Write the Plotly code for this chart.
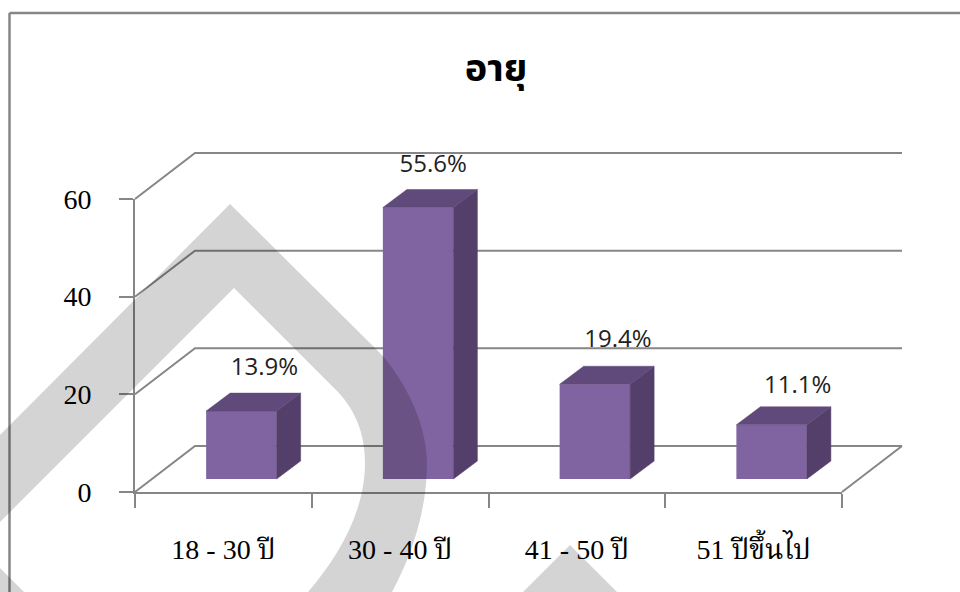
import plotly.graph_objects as go

categories = ["18 - 30 ปี", "30 - 40 ปี", "41 - 50 ปี", "51 ปีขึ้นไป"]
values = [13.9, 55.6, 19.4, 11.1]
labels = ["13.9%", "55.6%", "19.4%", "11.1%"]
y_ticks = [0, 20, 40, 60]
title = "อายุ"

W, H = 960, 592
L, R, T, B = 135, 842, 199, 492          # front axes box, in page pixels
PL, PR, PT, PB = 132, 906, 150, 495      # whole drawing area including the back wall
ux = (R - L) / 4
uy = (B - T) / 60
WALL_DX, WALL_DY = 60 / ux, 46 / uy
BAR_BASE_DX, BAR_BASE_DY = 18 / ux, 13 / uy
BAR_W = 70.5 / ux
BAR_DX, BAR_DY = 24 / ux, 18 / uy
LABEL_NUDGE_PX = [(-1, 24), (-9, 24), (-1, 25), (2, 20)]   # hand placement of the data labels
GRID = "#868686"
FRONT, SIDE, TOP = "#8063A1", "#533F69", "#5F4A7B"
SERIF = "Liberation Serif, 'Noto Serif Thai', 'Noto Sans Thai', 'Noto Sans', serif"
SANS = "'Open Sans', 'Noto Sans', 'Noto Sans Thai', sans-serif"

full_x = [(PL - L) / ux, (PR - L) / ux]
full_y = [(B - PB) / uy, (B - PT) / uy]

fig = go.Figure()

# back wall, side wall and floor lines: lowest subplot
for t in y_ticks:
    fig.add_trace(go.Scatter(
        x=[0, WALL_DX, 4 + WALL_DX], y=[t, t + WALL_DY, t + WALL_DY], mode="lines",
        line=dict(color=GRID, width=2), hoverinfo="skip", showlegend=False))
fig.add_trace(go.Scatter(
    x=[4, 4 + WALL_DX], y=[0, WALL_DY], mode="lines",
    line=dict(color=GRID, width=2), hoverinfo="skip", showlegend=False))

# front faces on the real axes
centers = [i + 0.5 + BAR_BASE_DX for i in range(4)]
fig.add_trace(go.Bar(
    x=centers, y=values, base=[BAR_BASE_DY] * 4, width=BAR_W, marker=dict(color=FRONT, line=dict(width=0)),
    xaxis="x2", yaxis="y2", showlegend=False, hoverinfo="skip"))

# side and top faces, data labels
for c, v in zip(centers, values):
    x0, x1 = c - BAR_W / 2, c + BAR_W / 2
    y0, y1 = BAR_BASE_DY, BAR_BASE_DY + v
    fig.add_trace(go.Scatter(
        x=[x1, x1 + BAR_DX, x1 + BAR_DX, x1, x1], y=[y0, y0 + BAR_DY, y1 + BAR_DY, y1, y0],
        mode="lines", fill="toself", fillcolor=SIDE, line=dict(color=SIDE, width=0.5),
        xaxis="x3", yaxis="y3", hoverinfo="skip", showlegend=False))
    fig.add_trace(go.Scatter(
        x=[x0, x1, x1 + BAR_DX, x0 + BAR_DX, x0], y=[y1, y1, y1 + BAR_DY, y1 + BAR_DY, y1],
        mode="lines", fill="toself", fillcolor=TOP, line=dict(color=TOP, width=0.5),
        xaxis="x3", yaxis="y3", hoverinfo="skip", showlegend=False))

fig.add_trace(go.Scatter(
    x=[c + BAR_DX + n[0] / ux for c, n in zip(centers, LABEL_NUDGE_PX)],
    y=[BAR_BASE_DY + v + BAR_DY + n[1] / uy for v, n in zip(values, LABEL_NUDGE_PX)],
    text=labels, mode="text", textposition="middle center",
    textfont=dict(family=SANS, size=24, color="#222222"),
    xaxis="x3", yaxis="y3", hoverinfo="skip", showlegend=False))


def px(x):
    return (x - PL) / (PR - PL)


def py(y):
    return (PB - y) / (PB - PT)


def path(*cmds):
    out = []
    for c in cmds:
        out.append(c[0] + " ".join(f"{px(c[i]):.5f},{py(c[i + 1]):.5f}" for i in range(1, len(c), 2)))
    return " ".join(out) + " Z"


WM = "rgba(0,0,0,0.17)"
shapes = [
    dict(type="path", xref="paper", yref="paper", layer="above", fillcolor=WM, line=dict(width=0),
         path=path(("M", 0, 435), ("L", 230, 204), ("L", 375, 348),
                   ("C", 400, 372, 427, 420, 427, 463), ("C", 427, 510, 412, 555, 392, 592),
                   ("L", 308, 592), ("C", 340, 555, 365, 510, 365, 463),
                   ("C", 365, 433, 355, 410, 338, 392), ("L", 234, 288), ("L", 0, 522))),
    dict(type="path", xref="paper", yref="paper", layer="above", fillcolor=WM, line=dict(width=0),
         path=path(("M", 0, 568), ("L", 24, 592), ("L", 0, 592))),
    dict(type="path", xref="paper", yref="paper", layer="above", fillcolor=WM, line=dict(width=0),
         path=path(("M", 523, 592), ("L", 570, 545), ("L", 617, 592))),
    dict(type="line", xref="paper", yref="paper", x0=px(9.5), x1=px(9.5), y0=py(592), y1=py(13),
         line=dict(color="#868686", width=2.5), layer="below"),
    dict(type="line", xref="paper", yref="paper", x0=px(9.5), x1=px(960), y0=py(13), y1=py(13),
         line=dict(color="#868686", width=2.5), layer="below"),
]

axis_common = dict(showgrid=False, zeroline=False, showline=True, linecolor=GRID, linewidth=2)
hidden = dict(visible=False, domain=[0, 1])
fig.update_layout(
    width=W, height=H, margin=dict(l=PL, r=W - PR, t=PT, b=H - PB, autoexpand=False),
    paper_bgcolor="white", plot_bgcolor="rgba(0,0,0,0)", showlegend=False, shapes=shapes,
    title=dict(text=f"<b>{title}</b>", x=496 / W, y=1 - 68 / H, xanchor="center", yanchor="middle",
               font=dict(family=SANS, size=38, color="black")),
    xaxis=dict(range=full_x, **hidden),
    yaxis=dict(range=full_y, **hidden),
    xaxis3=dict(range=full_x, anchor="y3", **hidden),
    yaxis3=dict(range=full_y, anchor="x3", **hidden),
    xaxis2=dict(range=[0, 4], anchor="y2", domain=[px(L), px(R)], tickmode="array",
                tickvals=[i + 0.5 for i in range(4)], ticktext=categories,
                ticks="", ticklabelstandoff=31, tickfont=dict(family=SERIF, size=28, color="black"),
                minor=dict(tickmode="array", tickvals=[0, 1, 2, 3, 4], ticks="outside", ticklen=14,
                           tickcolor=GRID, tickwidth=2),
                **axis_common),
    yaxis2=dict(range=[0, 60], anchor="x2", domain=[py(B), py(T)], tickmode="array", tickvals=y_ticks,
                ticks="outside", ticklen=14, tickcolor=GRID, tickwidth=2, ticklabelstandoff=22,
                tickfont=dict(family=SERIF, size=28, color="black"), **axis_common),
)

fig.write_html("out.html", config=dict(displayModeBar=False),
               post_script="document.body.style.margin='0';document.documentElement.style.overflow='hidden';")
